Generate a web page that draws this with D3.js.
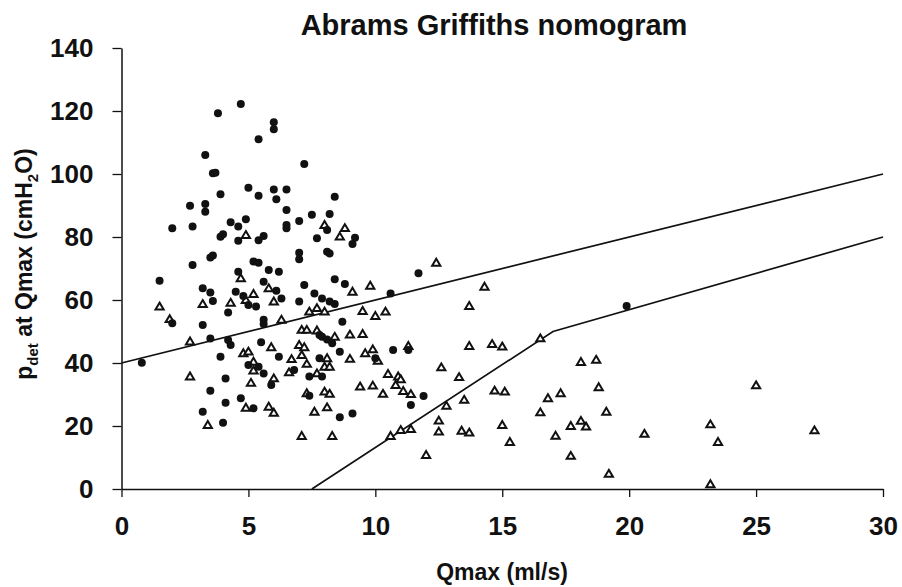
<!DOCTYPE html>
<html>
<head>
<meta charset="utf-8">
<script src="https://cdn.jsdelivr.net/npm/d3@7"></script>
<style>
  html, body { margin: 0; padding: 0; background: #fff; }
  svg { display: block; }
  text { font-family: "Liberation Sans", Arial, sans-serif; font-weight: bold; fill: #111; }
</style>
</head>
<body>
<svg id="chart" width="902" height="587"></svg>
<script>
// Qmax (ml/s) and pdet at Qmax (cmH2O) for obstructed cases (filled circles)
const circleQ = [4.7,3.8,3.3,3.6,3.7,5.0,3.9,2.7,3.3,3.3,2.0,2.8,4.3,4.9,4.6,3.9,4.0,4.6,
  6.0,6.0,5.4,7.2,6.0,6.5,5.4,6.1,8.4,6.5,7.5,8.2,7.0,6.5,6.5,8.1,9.2,5.4,5.6,7.7,
  3.5,3.6,2.8,1.5,4.6,3.2,3.5,4.5,4.8,5.0,3.6,4.2,2.0,3.2,3.5,4.2,4.3,0.8,3.9,5.0,
  4.1,3.5,4.7,4.1,5.2,3.2,4.0,
  9.1,7.0,7.0,8.1,8.2,5.2,5.4,5.8,6.2,5.6,6.1,7.2,8.4,8.8,7.6,7.9,6.3,7.0,8.2,8.4,
  5.3,5.6,5.6,8.7,7.8,7.9,8.1,8.3,5.5,6.2,8.6,7.8,5.4,6.8,7.4,7.9,5.6,5.9,7.4,8.6,9.1,
  11.7,10.6,10.7,11.3,10.0,11.9,11.4,19.9];
const circleP = [122.2,119.3,106.0,100.2,100.4,95.6,93.6,89.9,90.5,88.0,82.8,83.3,84.7,85.6,83.3,80.1,80.9,78.8,
  116.4,114.2,111.0,103.2,95.1,95.1,93.1,92.0,92.8,88.6,87.1,87.3,85.1,83.8,82.8,82.2,79.8,79.0,80.3,79.6,
  73.5,74.1,71.1,66.1,69.0,63.7,62.4,62.6,61.3,58.4,59.7,56.0,52.6,52.1,47.8,47.3,45.7,40.1,42.0,39.4,
  35.1,31.2,28.8,27.4,25.6,24.5,21.0,
  77.8,75.0,72.9,75.3,74.8,72.2,71.8,69.5,69.0,65.8,62.9,64.8,66.6,65.1,62.1,60.5,60.5,59.5,59.5,58.7,
  57.9,53.7,52.4,53.1,48.9,48.3,47.5,46.3,46.6,42.0,43.6,41.5,38.8,37.8,35.7,35.7,36.7,33.0,29.6,22.8,24.0,
  68.5,62.1,44.1,44.1,41.5,29.5,26.7,58.1];

// Equivocal / unobstructed cases (open triangles)
const triangleQ = [4.9,8.0,8.8,8.6,4.7,5.2,4.9,3.2,4.3,1.5,1.9,2.7,4.8,5.0,5.2,5.2,2.7,5.1,4.9,3.4,
  5.8,9.8,9.1,6.0,7.4,7.7,8.0,6.3,9.5,10.0,7.1,7.3,7.7,8.4,9.0,9.5,5.9,7.0,7.2,7.1,6.7,9.9,9.6,9.0,
  8.1,7.3,8.0,8.2,6.6,7.7,6.0,9.4,9.9,7.3,8.0,8.2,5.8,6.0,7.6,8.1,7.1,8.3,
  12.4,14.3,13.7,10.4,13.7,14.6,15.0,11.3,10.1,12.6,10.5,10.9,11.0,10.8,13.3,11.1,11.4,10.3,12.8,13.5,
  14.7,12.5,12.5,13.4,13.7,15.0,11.0,11.4,10.6,12.0,
  16.5,18.1,18.7,15.1,18.8,16.8,17.3,16.5,19.1,18.1,18.3,17.7,17.1,15.3,17.7,19.2,20.6,
  25.0,23.2,23.5,27.3,23.2];
const triangleP = [80.6,83.8,82.8,80.1,66.9,61.9,60.0,58.7,59.1,57.9,53.9,46.8,43.1,43.6,40.4,37.6,35.7,33.7,25.8,20.3,
  63.7,64.5,62.6,59.5,56.3,57.4,56.3,53.7,56.5,54.9,50.5,50.5,50.3,48.3,49.0,49.2,45.0,45.7,45.0,42.5,41.2,44.3,43.1,41.3,
  41.5,39.7,38.8,38.8,37.0,36.7,35.1,32.5,32.8,30.4,30.9,30.2,26.1,24.2,24.5,25.9,16.8,16.8,
  71.8,64.2,58.1,56.3,45.4,46.0,45.2,45.4,40.7,38.6,36.5,35.7,34.8,33.0,35.5,31.1,30.1,30.2,26.4,28.3,
  31.2,21.7,18.2,18.5,17.9,20.3,18.7,19.0,16.8,10.8,
  47.8,40.3,41.0,30.9,32.3,28.8,30.4,24.3,24.5,21.6,19.8,20.0,16.9,14.9,10.5,4.8,17.5,
  32.9,20.5,14.9,18.6,1.5];

// Nomogram boundaries: obstructed / equivocal and equivocal / unobstructed
const upperLineQ = [0, 30];
const upperLineP = [40, 100];
const lowerLineQ = [7.5, 17, 30];
const lowerLineP = [0, 50, 80];

const xTicks = [0, 5, 10, 15, 20, 25, 30];
const yTicks = [0, 20, 40, 60, 80, 100, 120, 140];

const svg = d3.select("#chart");
const x = d3.scaleLinear().domain([0, 30]).range([121.5, 883]);
const y = d3.scaleLinear().domain([0, 140]).range([489, 48]);

// Title
svg.append("text")
  .attr("x", 494).attr("y", 35)
  .attr("text-anchor", "middle")
  .style("font-size", "29px")
  .text("Abrams Griffiths nomogram");

// Axes
const xAxis = svg.append("g")
  .attr("transform", `translate(0,${y(0)})`)
  .call(d3.axisBottom(x).tickValues(xTicks).tickSize(8).tickPadding(20).tickSizeOuter(0));
const yAxis = svg.append("g")
  .attr("transform", `translate(${x(0)},0)`)
  .call(d3.axisLeft(y).tickValues(yTicks).tickSize(9).tickPadding(19).tickSizeOuter(0));

[xAxis, yAxis].forEach(g => {
  g.select(".domain").attr("stroke", "#111").attr("stroke-width", 1.5);
  g.selectAll(".tick line").attr("stroke", "#111").attr("stroke-width", 1.3);
  g.selectAll(".tick text")
    .attr("fill", "#111")
    .style("font-family", "'Liberation Sans', Arial, sans-serif")
    .style("font-weight", "bold")
    .style("font-size", "26px");
});

// Axis labels
svg.append("text")
  .attr("x", 502).attr("y", 580)
  .attr("text-anchor", "middle")
  .style("font-size", "23px")
  .text("Qmax (ml/s)");

const yLab = svg.append("text")
  .attr("transform", "translate(32,264) rotate(-90)")
  .attr("text-anchor", "middle")
  .style("font-size", "23px");
yLab.append("tspan").text("p");
yLab.append("tspan").attr("dy", 6).style("font-size", "15px").text("det");
yLab.append("tspan").attr("dy", -6).text(" at Qmax (cmH");
yLab.append("tspan").attr("dy", 6).style("font-size", "15px").text("2");
yLab.append("tspan").attr("dy", -6).text("O)");

// Boundary lines
const line = d3.line().x(d => x(d[0])).y(d => y(d[1]));
const plot = svg.append("g");
plot.append("path")
  .datum(d3.zip(upperLineQ, upperLineP))
  .attr("d", line).attr("fill", "none").attr("stroke", "#111").attr("stroke-width", 1.7);
plot.append("path")
  .datum(d3.zip(lowerLineQ, lowerLineP))
  .attr("d", line).attr("fill", "none").attr("stroke", "#111").attr("stroke-width", 1.7);

// Open triangles
const tri = "M0,-4L4.1,2.9L-4.1,2.9Z";
plot.append("g").selectAll("path")
  .data(d3.zip(triangleQ, triangleP))
  .join("path")
  .attr("d", tri)
  .attr("transform", d => `translate(${x(d[0])},${y(d[1])})`)
  .attr("fill", "#fff")
  .attr("stroke", "#111")
  .attr("stroke-width", 2)
  .attr("stroke-linejoin", "miter");

// Filled circles
plot.append("g").selectAll("circle")
  .data(d3.zip(circleQ, circleP))
  .join("circle")
  .attr("cx", d => x(d[0]))
  .attr("cy", d => y(d[1]))
  .attr("r", 4)
  .attr("fill", "#111");
</script>
</body>
</html>
